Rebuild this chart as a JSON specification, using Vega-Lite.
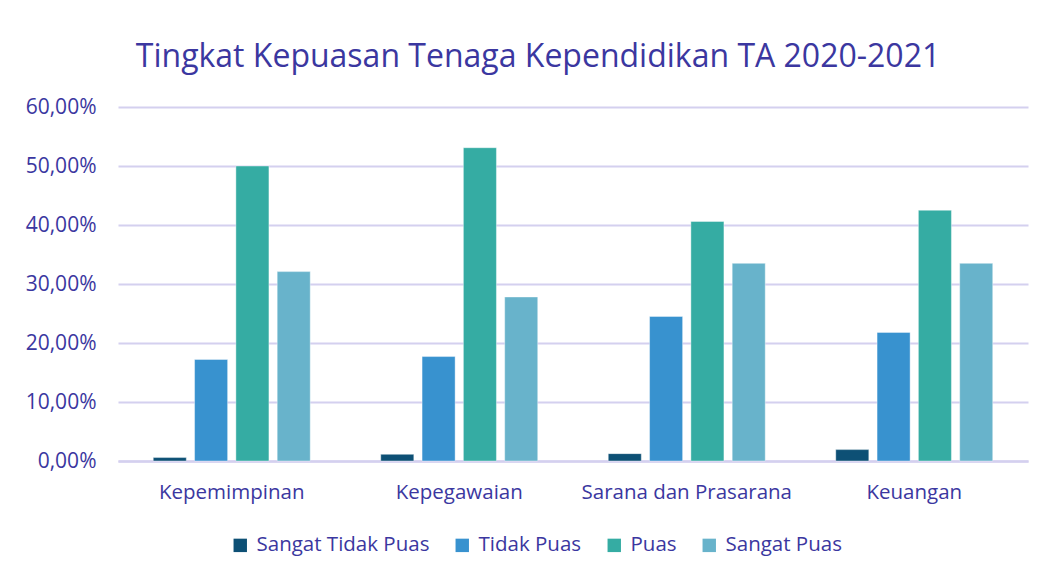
{
  "$schema": "https://vega.github.io/schema/vega-lite/v6.json",
  "width": 910,
  "height": 354,
  "autosize": {"type": "none"},
  "padding": {"left": 118, "top": 107, "right": 14, "bottom": 119},
  "background": "white",
  "title": {
    "text": "Tingkat Kepuasan Tenaga Kependidikan TA 2020-2021",
    "font": "Open Sans",
    "fontSize": 32,
    "fontWeight": "normal",
    "color": "#3b37a0",
    "anchor": "middle",
    "frame": "group",
    "offset": 22,
    "dx": -35
  },
  "data": {
    "values": [
      {"aspek": "Kepemimpinan", "kategori": "Sangat Tidak Puas", "nilai": 0.0058},
      {"aspek": "Kepemimpinan", "kategori": "Tidak Puas", "nilai": 0.172},
      {"aspek": "Kepemimpinan", "kategori": "Puas", "nilai": 0.500},
      {"aspek": "Kepemimpinan", "kategori": "Sangat Puas", "nilai": 0.321},
      {"aspek": "Kepegawaian", "kategori": "Sangat Tidak Puas", "nilai": 0.0113},
      {"aspek": "Kepegawaian", "kategori": "Tidak Puas", "nilai": 0.177},
      {"aspek": "Kepegawaian", "kategori": "Puas", "nilai": 0.531},
      {"aspek": "Kepegawaian", "kategori": "Sangat Puas", "nilai": 0.278},
      {"aspek": "Sarana dan Prasarana", "kategori": "Sangat Tidak Puas", "nilai": 0.0125},
      {"aspek": "Sarana dan Prasarana", "kategori": "Tidak Puas", "nilai": 0.245},
      {"aspek": "Sarana dan Prasarana", "kategori": "Puas", "nilai": 0.406},
      {"aspek": "Sarana dan Prasarana", "kategori": "Sangat Puas", "nilai": 0.335},
      {"aspek": "Keuangan", "kategori": "Sangat Tidak Puas", "nilai": 0.0193},
      {"aspek": "Keuangan", "kategori": "Tidak Puas", "nilai": 0.218},
      {"aspek": "Keuangan", "kategori": "Puas", "nilai": 0.425},
      {"aspek": "Keuangan", "kategori": "Sangat Puas", "nilai": 0.335}
    ]
  },
  "mark": {"type": "bar", "stroke": "#ffffff", "strokeOpacity": 0.4, "strokeWidth": 1},
  "encoding": {
    "x": {
      "field": "aspek",
      "type": "nominal",
      "sort": ["Kepemimpinan", "Kepegawaian", "Sarana dan Prasarana", "Keuangan"],
      "scale": {"paddingInner": 0.31, "paddingOuter": 0.155},
      "axis": {
        "title": null,
        "labelAngle": 0,
        "labelLimit": 0,
        "labelFont": "Open Sans",
        "labelFontSize": 20.5,
        "labelColor": "#3b37a0",
        "labelPadding": 21,
        "ticks": false,
        "domain": true,
        "domainColor": "#d4d0ef",
        "domainWidth": 2.5
      }
    },
    "y": {
      "field": "nilai",
      "type": "quantitative",
      "scale": {"domain": [0, 0.6], "nice": false},
      "axis": {
        "title": null,
        "values": [0, 0.1, 0.2, 0.3, 0.4, 0.5, 0.6],
        "labelExpr": "replace(format(datum.value, '.2%'), '.', ',')",
        "labelFont": "Open Sans",
        "labelFontSize": 21,
        "labelColor": "#3b37a0",
        "labelPadding": 22,
        "ticks": false,
        "domain": false,
        "grid": true,
        "gridColor": "#d4d0ef",
        "gridWidth": 2
      }
    },
    "xOffset": {
      "field": "kategori",
      "sort": ["Sangat Tidak Puas", "Tidak Puas", "Puas", "Sangat Puas"],
      "scale": {"paddingInner": 0.2, "paddingOuter": 0}
    },
    "color": {
      "field": "kategori",
      "type": "nominal",
      "scale": {
        "domain": ["Sangat Tidak Puas", "Tidak Puas", "Puas", "Sangat Puas"],
        "range": ["#0d5075", "#3892cf", "#35aca3", "#68b3cb"]
      },
      "legend": {
        "orient": "none",
        "legendX": 112,
        "legendY": 428,
        "direction": "horizontal",
        "title": null,
        "symbolType": "square",
        "symbolSize": 180,
        "symbolStrokeWidth": 0,
        "labelFont": "Open Sans",
        "labelFontSize": 20.5,
        "labelLimit": 0,
        "labelColor": "#3b37a0",
        "labelOffset": 6,
        "columnPadding": 22
      }
    }
  },
  "config": {"view": {"stroke": null}}
}
